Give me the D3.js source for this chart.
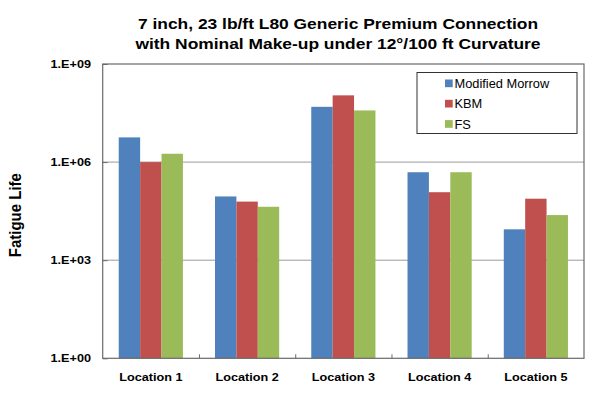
<!DOCTYPE html>
<html>
<head>
<meta charset="utf-8">
<script src="https://cdn.jsdelivr.net/npm/d3@7"></script>
<style>
  body { margin: 0; background: #fff; }
  svg text { font-family: "Liberation Sans", Arial, sans-serif; fill: #000; }
</style>
</head>
<body>
<div id="graphic"></div>
<script>
// DATA
var categories = ["Location 1", "Location 2", "Location 3", "Location 4", "Location 5"];
var seriesNames = ["Modified Morrow", "KBM", "FS"];
var modifiedMorrow = [5.7e6, 8.9e4, 4.9e7, 4.9e5, 8.8e3];
var kbm = [1.0e6, 6.2e4, 1.1e8, 1.2e5, 7.6e4];
var fs = [1.8e6, 4.3e4, 3.8e7, 4.9e5, 2.4e4];
var yTicks = [1, 1e3, 1e6, 1e9];
var yTickLabels = ["1.E+00", "1.E+03", "1.E+06", "1.E+09"];
var titleLines = ["7 inch, 23 lb/ft L80 Generic Premium Connection",
                  "with Nominal Make-up under 12\u00b0/100 ft Curvature"];
var yTitle = "Fatigue Life";

var colors = ["#4F81BD", "#C0504D", "#9BBB59"];
var seriesValues = [modifiedMorrow, kbm, fs];

// chart table built from the arrays
var table = categories.map(function (c, i) {
  return { cat: c, vals: seriesValues.map(function (s, k) { return { key: seriesNames[k], v: s[i], k: k }; }) };
});

var W = 597, H = 394;
var margin = { top: 64, right: 13, bottom: 35.7, left: 102.7 };
var width = W - margin.left - margin.right,
    height = H - margin.top - margin.bottom;
var sx = 1.15; // text in the picture is a bit wide

var svg = d3.select("#graphic").append("svg")
  .attr("width", W).attr("height", H);

var g = svg.append("g")
  .attr("transform", "translate(" + margin.left + "," + margin.top + ")");

var x0 = d3.scaleBand().domain(categories).range([0, width])
  .paddingInner(1 / 3).paddingOuter(1 / 6);
var x1 = d3.scaleBand().domain(seriesNames).range([0, x0.bandwidth()]);
var y = d3.scaleLog().domain([1, 1e9]).range([height, 0]);

// gridlines
g.selectAll(".grid").data(yTicks.slice(1, -1)).enter().append("line")
  .attr("class", "grid")
  .attr("x1", 0).attr("x2", width)
  .attr("y1", d => y(d)).attr("y2", d => y(d))
  .attr("stroke", "#9a9a9a").attr("stroke-width", 1);

// bars
var groups = g.selectAll(".grp").data(table).enter().append("g")
  .attr("class", "grp")
  .attr("transform", d => "translate(" + x0(d.cat) + ",0)");
groups.selectAll("rect").data(d => d.vals).enter().append("rect")
  .attr("x", d => x1(d.key))
  .attr("width", x1.bandwidth())
  .attr("y", d => y(d.v))
  .attr("height", d => height - y(d.v))
  .attr("fill", d => colors[d.k]);

// frame
g.append("rect").attr("x", 0).attr("y", 0).attr("width", width).attr("height", height)
  .attr("fill", "none").attr("stroke", "#6a6a6a").attr("stroke-width", 1.2);

// y axis ticks + labels
var yAxis = d3.axisLeft(y).tickValues(yTicks).tickSize(-5)
  .tickFormat((d, i) => yTickLabels[i]);
var ya = g.append("g").call(yAxis);
ya.select(".domain").remove();
ya.selectAll("line").attr("stroke", "#6a6a6a");
ya.selectAll("text").remove();
g.selectAll(".ylab").data(yTicks).enter().append("text")
  .attr("class", "ylab")
  .attr("transform", (d, i) => "translate(" + (-11.7) + "," + (y(d) + 4) + ") scale(" + 1.1 + ",1)")
  .attr("text-anchor", "end")
  .style("font-size", "11.5px").style("font-weight", "bold")
  .text((d, i) => yTickLabels[i]);

// x axis ticks between categories
var step = x0.step();
g.selectAll(".xtick").data(categories.slice(1)).enter().append("line")
  .attr("x1", d => x0(d) - x0.paddingInner() * step / 2 + 0.5)
  .attr("x2", d => x0(d) - x0.paddingInner() * step / 2 + 0.5)
  .attr("y1", height).attr("y2", height - 4)
  .attr("stroke", "#6a6a6a");

g.selectAll(".xlab").data(categories).enter().append("text")
  .attr("transform", d => "translate(" + (x0(d) + x0.bandwidth() / 2) + "," + (height + 22.3) + ") scale(" + sx + ",1)")
  .attr("text-anchor", "middle")
  .style("font-size", "11px").style("font-weight", "bold")
  .text(d => d);

// title
svg.selectAll(".title").data(titleLines).enter().append("text")
  .attr("transform", (d, i) => "translate(338," + (29 + i * 19.5) + ") scale(1.16,1)")
  .attr("text-anchor", "middle")
  .style("font-size", "15px").style("font-weight", "bold")
  .text(d => d);

// y title
svg.append("text")
  .attr("transform", "translate(21," + (margin.top + height / 2 + 4) + ") scale(" + sx + ",1) rotate(-90)")
  .attr("text-anchor", "middle")
  .style("font-size", "15px").style("font-weight", "bold")
  .text(yTitle);

// legend
var lg = svg.append("g").attr("transform", "translate(417,72.5)");
lg.append("rect").attr("width", 160).attr("height", 61)
  .attr("fill", "#fff").attr("stroke", "#333").attr("stroke-width", 1);
var items = lg.selectAll(".li").data(seriesNames).enter().append("g")
  .attr("transform", (d, i) => "translate(28," + (11 + i * 20.3) + ")");
items.append("rect").attr("x", 0).attr("y", -4).attr("width", 7.7).attr("height", 7.7)
  .attr("fill", (d, i) => colors[i]);
items.append("text")
  .attr("transform", "translate(9.5,4.5) scale(1.07,1)")
  .style("font-size", "12px")
  .text(d => d);
</script>
</body>
</html>
